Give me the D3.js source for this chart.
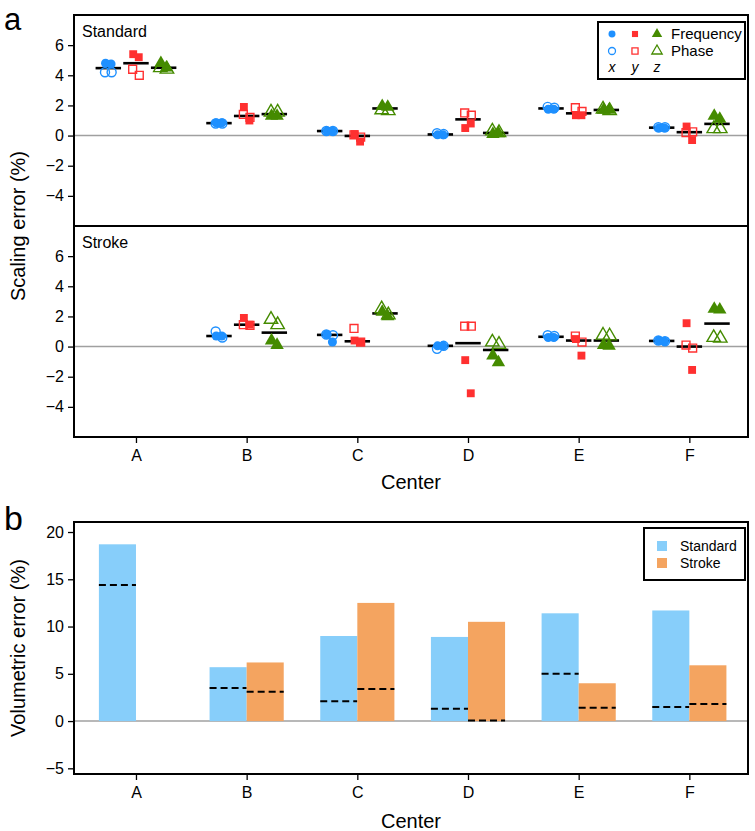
<!DOCTYPE html>
<html><head><meta charset="utf-8">
<script src="https://cdn.jsdelivr.net/npm/d3@7"></script>
<style>body{margin:0;background:#fff}svg{display:block;font-family:"Liberation Sans",Arial,sans-serif}</style>
</head><body><svg id="c" width="755" height="831"></svg>
<script>
// ---------- DATA ----------
const centers = ["A","B","C","D","E","F"];
const axisNames = ["x","y","z"];
const seriesNames = ["Frequency","Phase"];
// per center: [x pair, y pair, z pair]  (Standard protocol)
const stdFreq = [
  [[4.8,4.75],[5.4,5.2],[4.8,4.5]],
  [[0.85,0.85],[1.9,1.0],[1.3,1.3]],
  [[0.3,0.3],[0.1,-0.4],[1.95,1.9]],
  [[0.05,0.05],[0.5,0.8],[0.1,0.15]],
  [[1.75,1.75],[1.35,1.35],[1.7,1.7]],
  [[0.5,0.5],[0.6,-0.3],[1.3,1.1]]
];
const stdPhase = [
  [[4.2,4.2],[4.4,4.0],[4.5,4.4]],
  [[0.8,0.8],[1.4,1.2],[1.55,1.55]],
  [[0.3,0.3],[0.05,-0.1],[1.7,1.65]],
  [[0.15,0.1],[1.5,1.35],[0.3,0.2]],
  [[1.9,1.85],[1.85,1.6],[1.75,1.65]],
  [[0.55,0.55],[0.2,0.25],[0.45,0.45]]
];
// Stroke protocol (no data for A)
const strFreq = [
  null,
  [[0.7,0.7],[1.9,1.45],[0.4,0.1]],
  [[0.8,0.3],[0.4,0.3],[2.3,2.0]],
  [[0.05,0.05],[-0.9,-3.1],[-0.6,-1.05]],
  [[0.6,0.6],[0.5,-0.6],[0.1,0.05]],
  [[0.4,0.35],[1.55,-1.55],[2.5,2.45]]
];
const strPhase = [
  null,
  [[1.0,0.6],[1.45,1.4],[1.8,1.45]],
  [[0.8,0.75],[1.2,0.3],[2.5,2.1]],
  [[-0.15,0.05],[1.35,1.35],[0.3,0.15]],
  [[0.75,0.7],[0.7,0.3],[0.75,0.7]],
  [[0.4,0.35],[0.1,-0.1],[0.6,0.55]]
];
// Volumetric error (%)
const volStandard = [18.7, 5.7, 9.0, 8.9, 11.4, 11.7];
const volStroke   = [null, 6.2, 12.5, 10.5, 4.0, 5.9];
const refStandard = [14.4, 3.5, 2.1, 1.3, 5.0, 1.5];
const refStroke   = [null, 3.1, 3.4, 0.05, 1.4, 1.8];
const scalingTicks = [-4,-2,0,2,4,6];
const volTicks = [-5,0,5,10,15,20];

// ---------- LAYOUT ----------
const svg = d3.select("#c");
const L = 74, R = 748;
const colors = ["#1E90FF","#FF3030","#458B00"];
const shapes = [d3.symbolCircle, d3.symbolSquare, d3.symbolTriangle];
const sizes = [64, 62, 78];
const x = d3.scaleLinear().domain([0.44, 6.53]).range([L, R]);
const groupOff = [-0.25, 0, 0.25];
const jit = [[-0.025, 0.025],[-0.03, 0.03]];
const halfLine = 0.115;

function styleAxis(a) {
  a.select(".domain").remove();
  a.selectAll("line").attr("stroke-width", 1.3);
  a.selectAll("text").attr("font-size", 16).attr("font-family", "Liberation Sans, Arial").attr("fill", "#000");
}

function panel(y0, y1, freq, phase, label) {
  const y = d3.scaleLinear().domain([-6, 8]).range([y1, y0]);
  const g = svg.append("g");
  g.append("line").attr("x1", L).attr("x2", R).attr("y1", y(0)).attr("y2", y(0))
    .attr("stroke", "#a0a0a0").attr("stroke-width", 1.5);
  g.append("g").attr("transform", `translate(${L},0)`)
    .call(d3.axisLeft(y).tickValues(scalingTicks).tickSize(6).tickPadding(4))
    .call(styleAxis);
  g.append("text").attr("x", L + 8).attr("y", y0 + 22).attr("font-size", 16).text(label);
  centers.forEach((c, i) => {
    if (!freq[i]) return;
    axisNames.forEach((ax, k) => {
      const cx = i + 1 + groupOff[k];
      const all = freq[i][k].concat(phase[i][k]);
      const med = d3.median(all);
      g.append("line").attr("x1", x(cx - halfLine)).attr("x2", x(cx + halfLine))
        .attr("y1", y(med)).attr("y2", y(med)).attr("stroke", "#000").attr("stroke-width", 2.6);
      [freq, phase].forEach((src, s) => {
        src[i][k].forEach((v, j) => {
          g.append("path")
            .attr("d", d3.symbol().type(shapes[k]).size(sizes[k])())
            .attr("transform", `translate(${x(cx + jit[s][j])},${y(v)})`)
            .attr("fill", s === 0 ? colors[k] : "none")
            .attr("stroke", colors[k]).attr("stroke-width", s === 0 ? 0 : 1.4);
        });
      });
    });
  });
  return y;
}

panel(15, 226, stdFreq, stdPhase, "Standard");
panel(226, 437, strFreq, strPhase, "Stroke");
svg.append("rect").attr("x", L).attr("y", 15).attr("width", R - L).attr("height", 422)
  .attr("fill", "none").attr("stroke", "#000").attr("stroke-width", 2);
svg.append("line").attr("x1", L).attr("x2", R).attr("y1", 226).attr("y2", 226)
  .attr("stroke", "#000").attr("stroke-width", 2);

function xAxis(yPos) {
  svg.append("g").attr("transform", `translate(0,${yPos})`)
    .call(d3.axisBottom(x).tickValues([1,2,3,4,5,6]).tickFormat(d => centers[d-1]).tickSize(6).tickPadding(7))
    .call(styleAxis);
}
xAxis(437);
svg.append("text").attr("x", (L + R) / 2).attr("y", 489).attr("text-anchor", "middle").attr("font-size", 20).text("Center");
svg.append("text").attr("transform", `translate(25,${(15 + 437) / 2}) rotate(-90)`).attr("text-anchor", "middle")
  .attr("font-size", 20).text("Scaling error (%)");
svg.append("text").attr("x", 4).attr("y", 30).attr("font-size", 31).text("a");

// legend a
const lg = svg.append("g");
lg.append("rect").attr("x", 598).attr("y", 22).attr("width", 147).attr("height", 57)
  .attr("fill", "#fff").attr("stroke", "#000").attr("stroke-width", 2);
const lcol = [612, 635, 657];
[0, 1, 2].forEach(k => {
  [0, 1].forEach(s => {
    lg.append("path").attr("d", d3.symbol().type(shapes[k]).size(sizes[k] * 0.6)())
      .attr("transform", `translate(${lcol[k]},${34 + s * 17})`)
      .attr("fill", s === 0 ? colors[k] : "none").attr("stroke", colors[k]).attr("stroke-width", s === 0 ? 0 : 1.3);
  });
  lg.append("text").attr("x", lcol[k]).attr("y", 72).attr("text-anchor", "middle").attr("font-size", 14)
    .attr("font-style", "italic").text(axisNames[k]);
});
seriesNames.forEach((n, s) => lg.append("text").attr("x", 671).attr("y", 39 + s * 17).attr("font-size", 15).text(n));

// ---------- PANEL b ----------
const bTop = 522, bBot = 774;
const yb = d3.scaleLinear().domain([-5.6, 21.06]).range([bBot, bTop]);
svg.append("line").attr("x1", L).attr("x2", R).attr("y1", yb(0)).attr("y2", yb(0)).attr("stroke", "#a0a0a0").attr("stroke-width", 1.5);
const bw = 0.335;
const bars = [[volStandard, refStandard, "#87CEFA", -1], [volStroke, refStroke, "#F4A460", 0]];
bars.forEach(([vals, refs, col, side]) => {
  vals.forEach((v, i) => {
    if (v == null) return;
    const x0 = x(i + 1 + side * bw), x1 = x(i + 1 + (side + 1) * bw);
    svg.append("rect").attr("x", x0).attr("width", x1 - x0).attr("y", yb(v)).attr("height", yb(0) - yb(v)).attr("fill", col);
    svg.append("line").attr("x1", x0).attr("x2", x1).attr("y1", yb(refs[i])).attr("y2", yb(refs[i]))
      .attr("stroke", "#000").attr("stroke-width", 2).attr("stroke-dasharray", "7,4");
  });
});
svg.append("g").attr("transform", `translate(${L},0)`)
  .call(d3.axisLeft(yb).tickValues(volTicks).tickSize(6).tickPadding(4))
  .call(styleAxis);
svg.append("rect").attr("x", L).attr("y", bTop).attr("width", R - L).attr("height", bBot - bTop)
  .attr("fill", "none").attr("stroke", "#000").attr("stroke-width", 2);
xAxis(bBot);
svg.append("text").attr("x", (L + R) / 2).attr("y", 828).attr("text-anchor", "middle").attr("font-size", 20).text("Center");
svg.append("text").attr("transform", `translate(25,${(bTop + bBot) / 2}) rotate(-90)`).attr("text-anchor", "middle")
  .attr("font-size", 20).text("Volumetric error (%)");
svg.append("text").attr("x", 4).attr("y", 530).attr("font-size", 34).text("b");
// legend b
const lb = svg.append("g");
lb.append("rect").attr("x", 644).attr("y", 528).attr("width", 101).attr("height", 52)
  .attr("fill", "#fff").attr("stroke", "#000").attr("stroke-width", 2);
[["Standard", "#87CEFA"], ["Stroke", "#F4A460"]].forEach(([n, c], s) => {
  lb.append("rect").attr("x", 657).attr("y", 541 + s * 17).attr("width", 10).attr("height", 10).attr("fill", c);
  lb.append("text").attr("x", 680).attr("y", 551 + s * 17).attr("font-size", 14).text(n);
});
</script></body></html>
